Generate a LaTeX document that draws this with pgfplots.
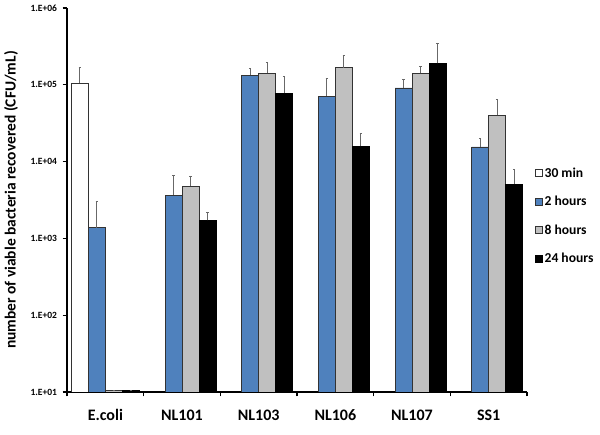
\documentclass[border=0pt]{standalone}
\usepackage{pgfplots}
\pgfplotsset{compat=1.18}
\usepackage{fontspec}
\setmainfont{Carlito}
\definecolor{barblue}{HTML}{4F81BD}
\definecolor{bargrey}{HTML}{C0C0C0}
\definecolor{errgrey}{HTML}{686868}
\begin{document}
\begin{tikzpicture}
\useasboundingbox (0,0) rectangle (600pt,434pt);
\begin{axis}[
  at={(67pt,42pt)}, anchor=south west,
  scale only axis, width=460pt, height=384pt,
  ymode=log, log basis y=10, ymin=10, ymax=1e6, log origin=infty,
  xmin=-0.5, xmax=5.5,
  axis x line*=bottom, axis y line*=left,
  axis line style={line width=1.5pt, black},
  ybar, bar width=17pt,
  ytick={10,100,1000,10000,100000,1000000},
  yticklabels={1.E+01,1.E+02,1.E+03,1.E+04,1.E+05,1.E+06},
  yticklabel style={font=\bfseries\fontsize{9.5}{10}\selectfont, xshift=-2pt},
  yminorticks=false, xminorticks=false,
  tick align=outside, major tick length=4.5pt,
  tick style={line width=1.2pt, black},
  xtick={-0.5,0.5,1.5,2.5,3.5,4.5,5.5},
  xticklabels={},
  extra x ticks={0,1,2,3,4,5},
  extra x tick labels={E.coli,NL101,NL103,NL106,NL107,SS1},
  extra x tick style={major tick length=0pt, tick style={draw=none},
    xticklabel style={font=\bfseries\fontsize{16}{18}\selectfont, yshift=-14pt}},
  ylabel={number of viable bacteria recovered (CFU/mL)},
  ylabel style={font=\bfseries\fontsize{15.5}{17}\selectfont, at={(axis description cs:-0.1217,0.5)}, anchor=center},
  legend style={draw=none, fill=none, at={(axis description cs:1.017,0.590)}, anchor=north west,
    font=\bfseries\fontsize{13.6}{16}\selectfont, row sep=13.5pt, inner sep=0pt},
  legend cell align=left,
  legend image code/.code={\draw[#1, line width=0.6pt] (0pt,-3.5pt) rectangle (7pt,3.5pt);},
  error bars/y dir=plus, error bars/y explicit,
  error bars/error bar style={errgrey, line width=0.9pt},
  error bars/error mark options={rotate=90, mark size=1.2pt, errgrey, line width=0.9pt},
]
\addplot[fill=white, draw=black!80, line width=0.6pt, bar shift=-25.5pt]
  coordinates {(0,105000) +- (0,65000)};
\addlegendentry{30 min}
\addplot[fill=barblue, draw=black!80, line width=0.6pt, bar shift=-8.5pt]
  coordinates {
  (0,1380) +- (0,1620)
  (1,3650) +- (0,2950)
  (2,134000) +- (0,30000)
  (3,71000) +- (0,51000)
  (4,91000) +- (0,25000)
  (5,15500) +- (0,4500)
  };
\addlegendentry{2 hours}
\addplot[fill=bargrey, draw=black!80, line width=0.6pt, bar shift=8.5pt]
  coordinates {
  (0,10.4) +- (0,0)
  (1,4800) +- (0,1700)
  (2,142000) +- (0,52000)
  (3,167000) +- (0,73000)
  (4,141000) +- (0,34000)
  (5,40000) +- (0,25000)
  };
\addlegendentry{8 hours}
\addplot[fill=black, draw=black, line width=0.6pt, bar shift=25.5pt]
  coordinates {
  (0,10.4) +- (0,0)
  (1,1720) +- (0,430)
  (2,78000) +- (0,52000)
  (3,15900) +- (0,7500)
  (4,190000) +- (0,157000)
  (5,5100) +- (0,2800)
  };
\addlegendentry{24 hours}
\end{axis}
\end{tikzpicture}
\end{document}
